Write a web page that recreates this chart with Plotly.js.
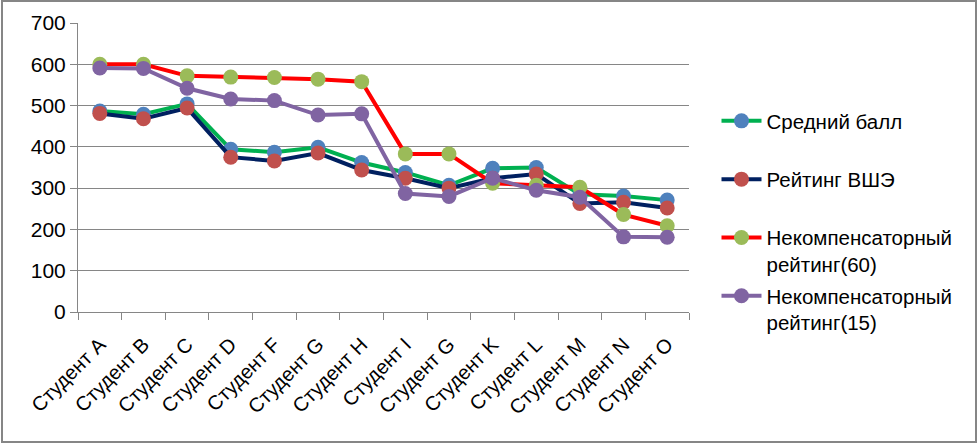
<!DOCTYPE html>
<html>
<head>
<meta charset="utf-8">
<script src="https://cdn.plot.ly/plotly-3.0.1.min.js"></script>
<style>
html,body{margin:0;padding:0;background:#fff;}
#chart{position:absolute;left:0;top:0;width:977px;height:443px;}
#frame{position:absolute;left:1px;top:0;width:976px;height:443px;box-sizing:border-box;border:2px solid #868686;pointer-events:none;}
</style>
</head>
<body>
<div id="chart"></div>
<div id="frame"></div>
<script>
const categories = ["Студент A","Студент B","Студент C","Студент D","Студент F","Студент G","Студент H","Студент I","Студент G","Студент K","Студент L","Студент M","Студент N","Студент O"];
const seriesNames = ["Средний балл","Рейтинг ВШЭ","Некомпенсаторный<br>рейтинг(60)","Некомпенсаторный<br>рейтинг(15)"];
const avgScore = [487, 479, 504, 394, 387, 399, 362, 338, 307, 348, 350, 285, 281, 271];
const hseRating = [481, 468, 494, 375, 366, 385, 344, 324, 300, 324, 334, 263, 266, 252];
const nonComp60 = [600, 600, 572, 569, 568, 564, 558, 383, 383, 312, 307, 302, 236, 209];
const nonComp15 = [591, 590, 542, 516, 512, 477, 480, 287, 280, 324, 295, 278, 182, 181];
const yTicks = [0, 100, 200, 300, 400, 500, 600, 700];

const xIdx = categories.map((c, i) => i);
const styles = [
  {line: "#00B050", marker: "#4F81BD"},
  {line: "#002060", marker: "#C0504D"},
  {line: "#FF0000", marker: "#9BBB59"},
  {line: "#8064A2", marker: "#8064A2"}
];
const values = [avgScore, hseRating, nonComp60, nonComp15];
const traces = values.map((v, k) => ({
  type: "scatter",
  mode: "lines+markers",
  x: xIdx,
  y: v,
  name: seriesNames[k].indexOf("<br>") >= 0 ? seriesNames[k] : seriesNames[k] + "<br> ",
  legendgroup: "g" + k,
  line: {color: styles[k].line, width: 4},
  marker: {color: styles[k].marker, size: 15}
}));

const FONT = "'Liberation Sans', Arial, sans-serif";
const layout = {
  width: 977, height: 443,
  margin: {l: 78, r: 288, t: 23, b: 131},
  paper_bgcolor: "#fff", plot_bgcolor: "#fff",
  font: {family: FONT, size: 20, color: "#000"},
  showlegend: true,
  legend: {
    x: 1.045, xanchor: "left", y: 0.73, yanchor: "top",
    font: {family: FONT, size: 20.5, color: "#000"},
    valign: "top", tracegroupgap: 2, itemwidth: 40,
    bgcolor: "rgba(0,0,0,0)"
  },
  xaxis: {
    type: "linear", range: [-0.5, 13.5],
    tickmode: "array", tickvals: xIdx, ticktext: categories,
    tickangle: -45, ticks: "", showgrid: false, zeroline: false,
    showline: true, linecolor: "#868686", linewidth: 1,
    ticklabelstandoff: 12,
    tickfont: {family: FONT, size: 20},
    minor: {tickmode: "linear", tick0: -0.5, dtick: 1, ticks: "outside", ticklen: 7, tickcolor: "#868686", tickwidth: 1, showgrid: false}
  },
  yaxis: {
    range: [0, 700], tickmode: "array", tickvals: yTicks,
    ticks: "outside", ticklen: 7, tickcolor: "#868686",
    showgrid: true, gridcolor: "#868686", gridwidth: 1,
    zeroline: false, showline: true, linecolor: "#868686", linewidth: 1,
    tickfont: {family: FONT, size: 21}
  }
};
Plotly.newPlot("chart", traces, layout, {displayModeBar: false, staticPlot: true});
</script>
</body>
</html>
